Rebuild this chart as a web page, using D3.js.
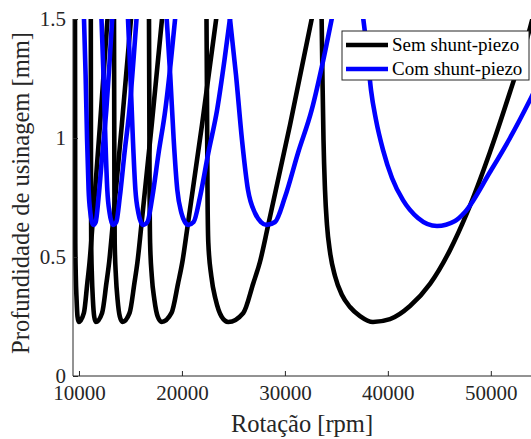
<!DOCTYPE html>
<html>
<head>
<meta charset="utf-8">
<script src="https://cdn.jsdelivr.net/npm/d3@7"></script>
<style>
  body { margin: 0; background: #ffffff; }
  svg { display: block; }
</style>
</head>
<body>
<svg id="chart" width="531" height="439"></svg>
<script>
// Stability lobes: each lobe is a list of [spindle speed (rpm), depth of cut (mm)]
const semShuntLobes = [
  [[9614,1.50],[9624,1.16],[9634,0.78],[9643,0.56],[9692,0.42],[9770,0.32],[9857,0.25],[9974,0.227],
   [10479,0.265],[10809,0.39],[11032,0.48],[11304,0.63],[12042,1.055],[12771,1.50]],
  [[11149,1.50],[11159,1.16],[11168,0.78],[11188,0.56],[11256,0.42],[11353,0.32],[11479,0.25],[11634,0.227],
   [12246,0.265],[12664,0.39],[12936,0.48],[13266,0.63],[14160,1.055],[15053,1.50]],
  [[13402,1.50],[13422,1.16],[13441,0.78],[13470,0.56],[13587,0.42],[13752,0.32],[13966,0.25],[14228,0.227],
   [14917,0.265],[15384,0.39],[15684,0.48],[16054,0.63],[17064,1.055],[18064,1.50]],
  [[16801,1.50],[16830,1.16],[16859,0.78],[16908,0.56],[17073,0.42],[17326,0.32],[17646,0.25],[18035,0.227],
   [18987,0.265],[19628,0.39],[20045,0.48],[20550,0.63],[21949,1.055],[23328,1.50]],
  [[22386,1.50],[22435,1.16],[22483,0.78],[22561,0.56],[22852,0.42],[23280,0.32],[23843,0.25],[24503,0.227],
   [25960,0.265],[26931,0.39],[27582,0.48],[28359,0.63],[30496,1.055],[32603,1.50]],
  [[33555,1.54],[33653,1.244],[33750,0.992],[33896,0.782],[34090,0.634],[34381,0.521],[34866,0.42],[35546,0.34],
   [36323,0.29],[37294,0.252],[38557,0.227],
   [40208,0.239],[42151,0.294],[44094,0.387],[46037,0.529],[47687,0.685],[49921,0.941],[51863,1.193],[53806,1.462],[54389,1.559]]
];

const comShuntLobes = [
  [[10488,1.50],[10644,1.265],[10789,0.992],[10935,0.782],[11110,0.685],[11256,0.647],[11392,0.635],
   [11626,0.647],[11907,0.752],[12275,0.937],[12658,1.118],[12984,1.328],[13227,1.50]],
  [[12188,1.50],[12382,1.265],[12567,0.992],[12751,0.782],[12975,0.685],[13160,0.647],[13334,0.635],
   [13625,0.647],[13965,0.752],[14422,0.937],[14898,1.118],[15296,1.328],[15587,1.50]],
  [[14762,1.50],[14995,1.265],[15238,0.992],[15481,0.782],[15772,0.685],[16015,0.647],[16248,0.635],
   [16646,0.647],[17122,0.752],[17734,0.937],[18385,1.118],[18938,1.328],[19336,1.50]],
  [[18521,1.50],[18861,1.265],[19201,0.992],[19550,0.782],[19949,0.685],[20289,0.647],[20618,0.635],
   [21133,0.647],[21755,0.752],[22561,0.937],[23416,1.118],[24134,1.328],[24659,1.50]],
  [[24668,1.50],[25251,1.265],[25834,0.992],[26416,0.782],[27096,0.685],[27679,0.647],[28233,0.635],
   [29038,0.647],[30010,0.752],[31273,0.937],[32603,1.118],[33730,1.328],[34546,1.50]],
  [[37615,1.50],[37974,1.37],[38363,1.202],[38848,1.076],[39528,0.95],[40402,0.832],[41471,0.739],[42928,0.664],[44773,0.63],
   [46521,0.651],[47492,0.689],[49920,0.857],[51863,1.0],[53903,1.168],[54777,1.244]]
];

const seriesNames = ["Sem shunt-piezo", "Com shunt-piezo"];
const seriesColors = ["#000000", "#0000ff"];
const xTickValues = [10000, 20000, 30000, 40000, 50000];
const yTickValues = [0, 0.5, 1, 1.5];
const xLabel = "Rotação [rpm]";
const yLabel = "Profundidade de usinagem [mm]";

const svg = d3.select("#chart");
const plot = { left: 73, right: 532, top: 19, bottom: 376 };
const axisColor = "#262626";
const serif = "'Liberation Serif', 'Times New Roman', serif";

const x = d3.scaleLinear().domain([9420, 54000]).range([plot.left, plot.right]);
const y = d3.scaleLinear().domain([0, 1.5]).range([plot.bottom, plot.top]);

svg.append("defs").append("clipPath").attr("id", "plotClip")
  .append("rect")
  .attr("x", plot.left).attr("y", plot.top)
  .attr("width", plot.right - plot.left).attr("height", plot.bottom - plot.top);

const line = d3.line()
  .x(d => x(d[0]))
  .y(d => y(d[1]))
  .curve(d3.curveMonotoneX);

// Black series first, blue drawn over it
const lobesGroup = svg.append("g").attr("clip-path", "url(#plotClip)");
[semShuntLobes, comShuntLobes].forEach((lobes, i) => {
  lobesGroup.append("g")
    .selectAll("path")
    .data(lobes)
    .join("path")
    .attr("d", line)
    .attr("fill", "none")
    .attr("stroke", seriesColors[i])
    .attr("stroke-width", 4.6)
    .attr("stroke-linecap", "square")
    .attr("stroke-linejoin", "round");
});

// Axes (inward ticks, no box)
const xAxis = d3.axisBottom(x).tickValues(xTickValues).tickSize(-5).tickPadding(9).tickFormat(d3.format("d"));
const yAxis = d3.axisLeft(y).tickValues(yTickValues).tickSize(-5).tickPadding(7).tickFormat(d => d3.format("")(d));

const gx = svg.append("g").attr("transform", `translate(0,${plot.bottom})`).call(xAxis);
const gy = svg.append("g").attr("transform", `translate(${plot.left},0)`).call(yAxis);

[gx, gy].forEach(g => {
  g.select(".domain").attr("stroke", axisColor).attr("stroke-width", 1);
  g.selectAll(".tick line").attr("stroke", axisColor).attr("stroke-width", 1);
  g.selectAll(".tick text")
    .attr("fill", axisColor)
    .style("font-family", serif)
    .style("font-size", "21px");
});
gy.select(".domain").attr("d", `M0,${plot.top}V${plot.bottom}`);
gx.select(".domain").attr("d", `M${plot.left},0H${plot.right}`);
gx.selectAll(".tick text").attr("dy", "0.71em");
gy.selectAll(".tick text").attr("dy", "0.3em");

svg.append("text")
  .attr("x", (plot.left + 531) / 2)
  .attr("y", 432)
  .attr("text-anchor", "middle")
  .attr("fill", axisColor)
  .style("font-family", serif)
  .style("font-size", "24.5px")
  .text(xLabel);

svg.append("text")
  .attr("transform", `translate(29,193) rotate(-90)`)
  .attr("text-anchor", "middle")
  .attr("fill", axisColor)
  .style("font-family", serif)
  .style("font-size", "24.5px")
  .text(yLabel);

// Legend
const legend = svg.append("g");
legend.append("rect")
  .attr("x", 342).attr("y", 31)
  .attr("width", 187).attr("height", 49)
  .attr("fill", "#ffffff")
  .attr("stroke", axisColor)
  .attr("stroke-width", 1);
seriesNames.forEach((name, i) => {
  const cy = 45 + i * 24;
  legend.append("line")
    .attr("x1", 346).attr("x2", 388)
    .attr("y1", cy).attr("y2", cy)
    .attr("stroke", seriesColors[i])
    .attr("stroke-width", 4.6);
  legend.append("text")
    .attr("x", 392).attr("y", cy)
    .attr("dy", "0.33em")
    .attr("fill", "#000000")
    .style("font-family", serif)
    .style("font-size", "19px")
    .text(name);
});
</script>
</body>
</html>
